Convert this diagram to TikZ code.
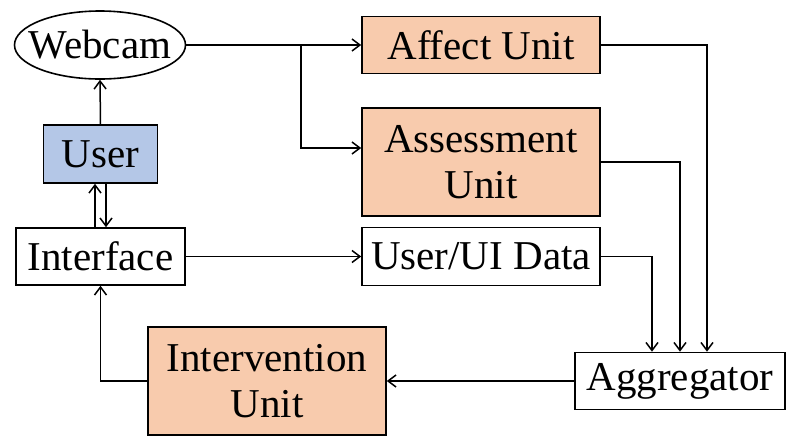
\documentclass[tikz,border=0pt]{standalone}
\usepackage{fontspec}
\setmainfont{Liberation Serif}
\usetikzlibrary{arrows.meta,shapes.geometric}
\definecolor{orangefill}{HTML}{F8CBAD}
\definecolor{bluefill}{HTML}{B4C7E7}
\begin{document}
\begin{tikzpicture}[x=0.5pt,y=-0.5pt,
  box/.style={draw=black,line width=0.8pt,inner sep=0pt,align=center,font=\fontsize{20.5pt}{23pt}\selectfont},
  orangebox/.style={box,fill=orangefill},
  arr/.style={line width=0.75pt,-{Straight Barb[length=4pt,width=6pt]}}]
\useasboundingbox (0,0) rectangle (800,446);
\node[box,ellipse,minimum width=85.5pt,minimum height=34pt] (webcam) at (100,45) {\makebox[0pt]{Webcam}};
\node[orangebox,minimum width=119pt,minimum height=28.5pt] (affect) at (481,45) {Affect Unit};
\node[orangebox,minimum width=119pt,minimum height=54pt] (assess) at (481,162) {Assessment\\Unit};
\node[box,minimum width=119pt,minimum height=29pt] (uidata) at (481,256.5) {User/UI Data};
\node[box,fill=bluefill,minimum width=57pt,minimum height=29pt] (user) at (100.5,154) {User};
\node[box,minimum width=84.5pt,minimum height=28.5pt] (interface) at (100.5,256.5) {Interface};
\node[orangebox,minimum width=119pt,minimum height=54pt] (interv) at (267,381) {Intervention\\Unit};
\node[box,minimum width=105pt,minimum height=28.5pt] (agg) at (680,381) {Aggregator};
\coordinate (br) at (301,45);
\draw[arr] (webcam.east) -- (affect.west);
\draw[arr] (br) |- ([yshift=7pt]assess.west);
\draw[arr] (user.north) -- (webcam.south);
\draw[arr] ([xshift=-2.75pt]interface.north) -- ([xshift=-2.75pt]user.south);
\draw[arr] ([xshift=2.75pt]user.south) -- ([xshift=2.75pt]interface.north);
\draw[arr] (interface.east) -- (uidata.west);
\draw[arr] (interv.west) -| (interface.south);
\draw[arr] (agg.west) -- (interv.east);
\draw[arr] (uidata.east) -| ([xshift=-14pt]agg.north);
\draw[arr] (assess.east) -| (agg.north);
\draw[arr] (affect.east) -| ([xshift=13.5pt]agg.north);
\end{tikzpicture}
\end{document}
